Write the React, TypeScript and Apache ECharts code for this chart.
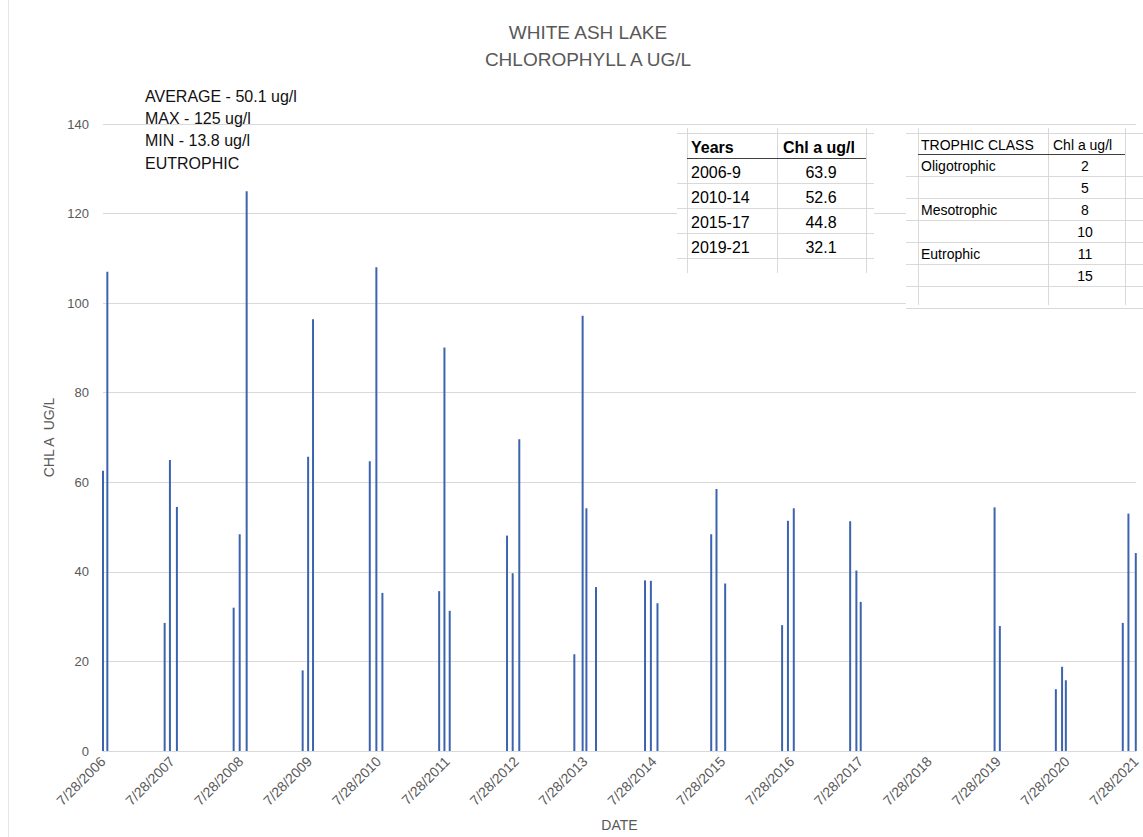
import React, { useEffect, useRef } from 'react';
import * as echarts from 'echarts';

// ---- data ----
const sampleDates: string[] = [
  '2006-07-28', '2006-08-20',
  '2007-06-20', '2007-07-18', '2007-08-24',
  '2008-06-20', '2008-07-22', '2008-08-28',
  '2009-06-21', '2009-07-20', '2009-08-15',
  '2010-06-12', '2010-07-17', '2010-08-18',
  '2011-06-15', '2011-07-13', '2011-08-10',
  '2012-06-09', '2012-07-09', '2012-08-13',
  '2013-06-01', '2013-07-15', '2013-08-04', '2013-09-24',
  '2014-06-11', '2014-07-12', '2014-08-16',
  '2015-05-28', '2015-06-25', '2015-08-10',
  '2016-06-07', '2016-07-08', '2016-08-08',
  '2017-06-03', '2017-07-06', '2017-07-29',
  '2019-07-09', '2019-08-06',
  '2020-05-29', '2020-07-01', '2020-07-21',
  '2021-05-19', '2021-06-18', '2021-07-27',
];
const chlValues: number[] = [
  62.6, 107.0,
  28.6, 65.0, 54.5,
  32.0, 48.4, 125.0,
  18.0, 65.7, 96.4,
  64.7, 108.0, 35.3,
  35.7, 90.1, 31.3,
  48.1, 39.7, 69.6,
  21.6, 97.2, 54.2, 36.6,
  38.1, 38.0, 33.0,
  48.4, 58.5, 37.4,
  28.1, 51.4, 54.2,
  51.3, 40.3, 33.3,
  54.4, 27.9,
  13.8, 18.8, 15.8,
  28.6, 53.0, 44.2,
];
const axisStartDate = '2006-07-28';
const axisYears = 15;
const tickMonthDay = '7/28';

const titleLines = ['WHITE ASH LAKE', 'CHLOROPHYLL A UG/L'];
const summaryLines = ['AVERAGE - 50.1 ug/l', 'MAX - 125 ug/l', 'MIN - 13.8 ug/l', 'EUTROPHIC'];

const periodHeader = ['Years', 'Chl a ug/l'];
const periodLabels = ['2006-9', '2010-14', '2015-17', '2019-21'];
const periodValues = ['63.9', '52.6', '44.8', '32.1'];

const trophicHeader = ['TROPHIC CLASS', 'Chl a ug/l'];
const trophicClasses = ['Oligotrophic', '', 'Mesotrophic', '', 'Eutrophic', ''];
const trophicValues = ['2', '5', '8', '10', '11', '15'];

// ---- helpers ----
const FONT = '"Liberation Sans", Arial, sans-serif';
const DAY = 86400000;
const YEAR = 365.25 * DAY;
const parseUTC = (s: string) => {
  const [y, m, d] = s.split('-').map(Number);
  return Date.UTC(y, m - 1, d);
};
const START = parseUTC(axisStartDate);
const startYear = Number(axisStartDate.slice(0, 4));
const toYears = (s: string) => (parseUTC(s) - START) / YEAR;

const LIGHT = '#d9d9d9';
const DARK = '#404040';

function hLine(x1: number, x2: number, y: number, color: string, w = 1) {
  return { type: 'line', z: 100, shape: { x1, y1: y, x2, y2: y }, style: { stroke: color, lineWidth: w } };
}
function vLine(x: number, y1: number, y2: number, color: string) {
  return { type: 'line', z: 100, shape: { x1: x, y1, x2: x, y2 }, style: { stroke: color, lineWidth: 1 } };
}
function txt(text: string, x: number, y: number, size: number, opts: any = {}) {
  return {
    type: 'text', z: 101, x, y,
    style: {
      text, fontSize: size, fontFamily: FONT, fill: opts.fill || '#000',
      fontWeight: opts.bold ? 'bold' : 'normal',
      align: opts.align || 'left', verticalAlign: 'middle',
    },
  };
}

function buildGraphics() {
  const els: any[] = [];
  // chart frame line at left
  els.push(vLine(8.5, 0, 837, '#e6e6e6'));
  // title
  titleLines.forEach((t, i) => els.push(txt(t, 588, 32 + i * 27, 19, { align: 'center', fill: '#595959' })));
  // summary annotation
  summaryLines.forEach((t, i) => els.push(txt(t, 145, 96 + i * 22.4, 16, { fill: '#111' })));

  // table 1
  els.push({ type: 'rect', z: 99, shape: { x: 677, y: 128, width: 197, height: 146 }, style: { fill: '#fff' } });
  [687.5, 777.5, 866.5].forEach((x) => els.push(vLine(x, 128, 273, LIGHT)));
  els.push(hLine(677, 874, 133.5, LIGHT));
  for (let i = 1; i <= periodLabels.length; i++) els.push(hLine(677, 874, 158.5 + i * 25, LIGHT));
  els.push(hLine(687, 866, 158.5, DARK, 1.2));
  els.push(txt(periodHeader[0], 691, 147, 16, { bold: true }));
  els.push(txt(periodHeader[1], 783, 147, 16, { bold: true }));
  periodLabels.forEach((t, i) => {
    els.push(txt(t, 691, 172 + i * 25, 16));
    els.push(txt(periodValues[i], 821, 172 + i * 25, 16, { align: 'center' }));
  });

  // table 2
  els.push({ type: 'rect', z: 99, shape: { x: 906, y: 128, width: 237, height: 178 }, style: { fill: '#fff' } });
  [918.5, 1048.5, 1125.5].forEach((x) => els.push(vLine(x, 128, 305, LIGHT)));
  els.push(hLine(906, 1143, 133.5, LIGHT));
  for (let i = 1; i <= trophicValues.length + 1; i++) els.push(hLine(906, 1143, 154.5 + i * 22, LIGHT));
  els.push(hLine(918, 1125, 154.5, DARK, 1.2));
  els.push(txt(trophicHeader[0], 921, 145, 14));
  els.push(txt(trophicHeader[1], 1053, 145, 14));
  trophicValues.forEach((v, i) => {
    if (trophicClasses[i]) els.push(txt(trophicClasses[i], 921, 166 + i * 22, 14));
    els.push(txt(v, 1085, 166 + i * 22, 14, { align: 'center' }));
  });
  return els;
}

export default function App() {
  const ref = useRef<HTMLDivElement>(null);
  useEffect(() => {
    if (!ref.current) return;
    const chart = echarts.init(ref.current, undefined, { renderer: 'svg' });
    const data = sampleDates.map((d, i) => [toYears(d), chlValues[i]]);
    chart.setOption({
      animation: false,
      backgroundColor: '#fff',
      textStyle: { fontFamily: FONT },
      grid: { left: 103, right: 3.5, top: 124, bottom: 84 },
      xAxis: {
        type: 'value', min: 0, max: axisYears, interval: 1,
        name: 'DATE', nameLocation: 'middle', nameGap: 67,
        nameTextStyle: { fontSize: 14, color: '#595959', fontFamily: FONT },
        axisLine: { show: true, onZero: false, lineStyle: { color: LIGHT } },
        axisTick: { show: false },
        splitLine: { show: false },
        axisLabel: {
          rotate: 45, margin: 8, fontSize: 14, color: '#595959', fontFamily: FONT,
          formatter: (v: number) => `${tickMonthDay}/${startYear + Math.round(v)}`,
        },
      },
      yAxis: {
        type: 'value', min: 0, max: 140, interval: 20,
        name: 'CHL A  UG/L', nameLocation: 'middle', nameGap: 44,
        nameTextStyle: { fontSize: 14, color: '#595959', fontFamily: FONT },
        axisLine: { show: false }, axisTick: { show: false },
        splitLine: { lineStyle: { color: LIGHT, width: 1 } },
        axisLabel: { fontSize: 13, color: '#595959', margin: 14, fontFamily: FONT },
      },
      series: [{
        type: 'bar', data, barWidth: 2, clip: false,
        itemStyle: { color: '#3C64AE' },
      }],
      graphic: { elements: buildGraphics() },
    });
    return () => chart.dispose();
  }, []);
  return <div ref={ref} style={{ position: 'absolute', left: 0, top: 0, width: 1143, height: 837 }} />;
}
